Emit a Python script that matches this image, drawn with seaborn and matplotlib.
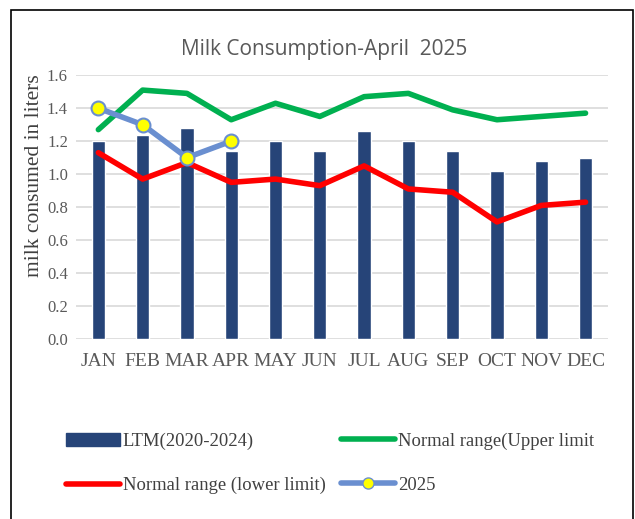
import seaborn as sns
import matplotlib.pyplot as plt
import pandas as pd
from matplotlib.patches import Rectangle
from matplotlib.lines import Line2D

months = ["JAN", "FEB", "MAR", "APR", "MAY", "JUN", "JUL", "AUG", "SEP", "OCT", "NOV", "DEC"]
ltm = [1.20, 1.24, 1.28, 1.14, 1.20, 1.14, 1.26, 1.20, 1.14, 1.02, 1.08, 1.10]
upper = [1.27, 1.51, 1.49, 1.33, 1.43, 1.35, 1.47, 1.49, 1.39, 1.33, 1.35, 1.37]
lower = [1.13, 0.97, 1.07, 0.95, 0.97, 0.93, 1.05, 0.91, 0.89, 0.71, 0.81, 0.83]
y2025 = [1.40, 1.30, 1.10, 1.20]

sns.set_style("white")
plt.rcParams['font.family'] = ['Liberation Serif', 'DejaVu Serif']

fig = plt.figure(figsize=(6.35, 5.19), dpi=100)
ax = fig.add_axes([0.12, 0.347, 0.837, 0.508])

df = pd.DataFrame({"month": months, "ltm": ltm})
sns.barplot(data=df, x="month", y="ltm", color="#264478", width=0.3, saturation=1, ax=ax)

x = list(range(len(months)))
sns.lineplot(x=x, y=upper, color="#00b050", linewidth=4, ax=ax)
sns.lineplot(x=x, y=lower, color="#ff0000", linewidth=4, ax=ax)
sns.lineplot(x=x[:len(y2025)], y=y2025, color="#6a8fd0", linewidth=4, marker="o",
             markersize=10, markerfacecolor="#ffff00", markeredgecolor="#6a8fd0",
             markeredgewidth=1.5, ax=ax)

ax.set_ylim(0, 1.6)
ax.set_xlim(-0.5, 11.5)
ax.set_yticks([0.0, 0.2, 0.4, 0.6, 0.8, 1.0, 1.2, 1.4, 1.6])
ax.set_yticklabels([f"{v:.1f}" for v in ax.get_yticks()])
ax.yaxis.grid(True, color="#d9d9d9", linewidth=1.2)
ax.set_axisbelow(True)
for s in ax.spines.values():
    s.set_visible(False)
ax.tick_params(axis="y", labelsize=12, colors="#595959", length=0, pad=6)
ax.tick_params(axis="x", labelsize=14, colors="#595959", length=0, pad=10)
ax.set_xlabel("")
ax.set_ylabel("milk consumed in liters", fontsize=15.5, color="#404040")
ax.yaxis.set_label_coords(-0.06, 0.62)

fig.text(0.51, 0.905, "Milk Consumption-April  2025", ha="center", va="center",
         fontsize=15, color="#595959", family=["Open Sans", "DejaVu Sans"])

handles = [
    Rectangle((0, 0), 1, 1, color="#264478"),
    Line2D([], [], color="#ff0000", linewidth=4),
    Line2D([], [], color="#00b050", linewidth=4),
    Line2D([], [], color="#6a8fd0", linewidth=4, marker="o", markersize=8,
           markerfacecolor="#ffff00", markeredgecolor="#6a8fd0"),
]
labels = ["LTM(2020-2024)", "Normal range (lower limit)", "Normal range(Upper limit", "2025"]
fig.legend(handles, labels, loc="center", bbox_to_anchor=(0.52, 0.107), ncol=2,
           frameon=False, fontsize=13.4, handlelength=2.9, handletextpad=0.15,
           columnspacing=0.85, labelspacing=1.45, labelcolor="#404040")

fig.patches.append(Rectangle((0.017, -0.05), 0.98, 1.03, transform=fig.transFigure,
                             fill=False, edgecolor="black", linewidth=1.2))

fig.savefig("out.png", dpi=100)
